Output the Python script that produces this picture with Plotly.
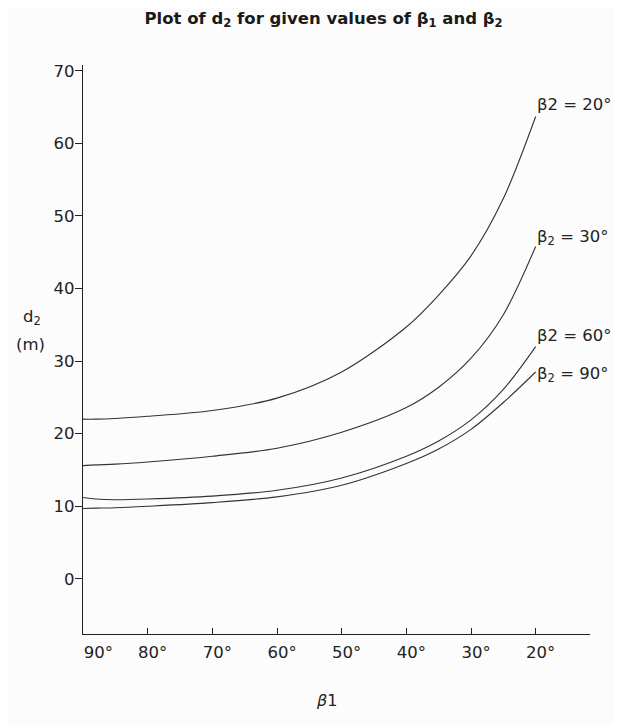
import plotly.graph_objects as go

# beta1 (degrees) sample positions
beta1 = [90, 88, 85, 80, 70, 60, 50, 40, 35, 30, 25, 20]

# d2 (m) for each beta2 value
d2_beta2_20 = [22.0, 22.0, 22.1, 22.4, 23.2, 24.9, 28.5, 34.7, 39.1, 44.5, 52.4, 63.7]
d2_beta2_30 = [15.6, 15.7, 15.8, 16.1, 16.9, 18.0, 20.2, 23.6, 26.4, 30.4, 36.4, 45.8]
d2_beta2_60 = [11.2, 11.0, 10.9, 11.0, 11.4, 12.2, 13.9, 16.9, 19.0, 21.9, 26.1, 32.0]
d2_beta2_90 = [9.7, 9.75, 9.8, 10.0, 10.5, 11.3, 12.9, 15.9, 17.9, 20.6, 24.3, 28.5]

series_labels = ["β2 = 20°", "β<sub>2</sub> = 30°", "β2 = 60°", "β<sub>2</sub> = 90°"]
series_values = [d2_beta2_20, d2_beta2_30, d2_beta2_60, d2_beta2_90]
label_y = [65.4, 47.1, 33.5, 28.1]

x_ticks = [90, 80, 70, 60, 50, 40, 30, 20]
x_ticktext = ["\u00a0\u00a0\u00a0\u00a090°", "80°", "70°", "60°", "50°", "40°", "30°", "20°"]
y_ticks = [0, 10, 20, 30, 40, 50, 60, 70]

ink = "#222222"
font_family = "DejaVu Sans, sans-serif"

fig = go.Figure()
for name, vals in zip(series_labels, series_values):
    fig.add_trace(go.Scatter(
        x=beta1, y=vals, mode="lines", name=name,
        line=dict(color="#333333", width=1.1, shape="spline", smoothing=0.9),
        showlegend=False, hoverinfo="x+y",
    ))

annotations = []
for name, ly in zip(series_labels, label_y):
    annotations.append(dict(
        x=20, y=ly, xref="x", yref="y", text=name, showarrow=False,
        xanchor="left", yanchor="middle", xshift=-1,
        font=dict(size=16.5, color=ink, family=font_family),
    ))

# y-axis title (horizontal, left of the 30 tick), two lines
annotations.append(dict(
    x=-0.100, y=(634 - 317) / 569, xref="paper", yref="paper",
    text="d<sub>2</sub>", showarrow=False,
    xanchor="center", yanchor="middle",
    font=dict(size=16.5, color=ink, family=font_family),
))
annotations.append(dict(
    x=-0.1045, y=(634 - 344) / 569, xref="paper", yref="paper",
    text="(m)", showarrow=False,
    xanchor="center", yanchor="middle",
    font=dict(size=16.5, color=ink, family=font_family),
))
# x-axis title
annotations.append(dict(
    x=(326 - 83) / 507, y=(634 - 700) / 569, xref="paper", yref="paper",
    text="<i>β</i>1", showarrow=False,
    xanchor="center", yanchor="middle",
    font=dict(size=16, color=ink, family=font_family),
))

# page body has an 8px margin: shrink figure and shift margins accordingly
fig.update_layout(
    width=614, height=718,
    margin=dict(l=75, r=32, t=57, b=92),
    paper_bgcolor="#fcfcfc", plot_bgcolor="#fcfcfc",
    title=dict(
        text="<b>Plot of d<sub>2</sub> for given values of β<sub>1</sub> and β<sub>2</sub></b>",
        x=0.514, xanchor="center", y=0.994, yanchor="top",
        font=dict(size=16.5, color="#1a1a1a", family=font_family),
    ),
    xaxis=dict(
        range=[90, 11.6], tickvals=x_ticks, ticktext=x_ticktext,
        showgrid=False, zeroline=False, showline=True, linecolor=ink, linewidth=1.4,
        ticks="inside", ticklen=6, tickcolor=ink, tickwidth=1.2,
        tickfont=dict(size=16.5, color=ink, family=font_family),
        ticklabelshift=-5, ticklabelstandoff=3,
    ),
    yaxis=dict(
        range=[-7.6, 70.8], tickvals=y_ticks,
        showgrid=False, zeroline=False, showline=True, linecolor=ink, linewidth=1.4,
        ticks="outside", ticklen=7, tickcolor=ink, tickwidth=1.2,
        tickfont=dict(size=16.5, color=ink, family=font_family),
        ticklabelstandoff=-3,
    ),
    annotations=annotations,
    font=dict(family=font_family, color=ink),
)

fig.write_html("out.html")
